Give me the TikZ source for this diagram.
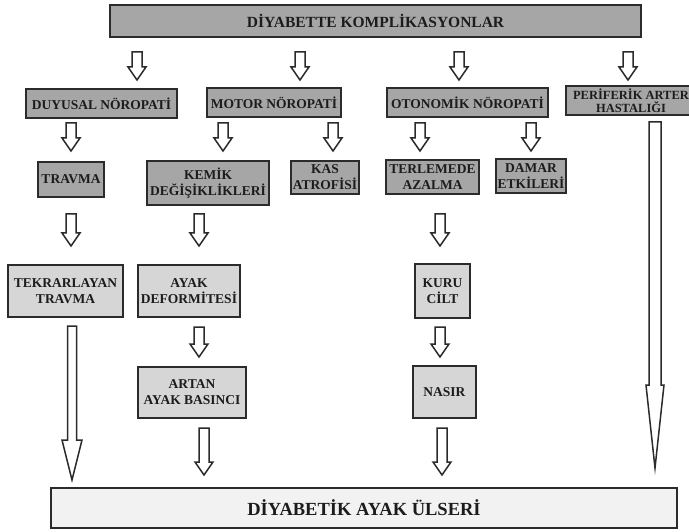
\documentclass[tikz,border=0pt]{standalone}
\usepackage{fontspec}
\setmainfont{Liberation Serif}
\definecolor{midgray}{HTML}{A6A6A6}
\definecolor{lightgray2}{HTML}{D6D6D6}
\definecolor{palegray}{HTML}{F2F2F2}
\definecolor{edge}{HTML}{2B2B2B}
\definecolor{ink}{HTML}{1C1C1C}
\tikzset{
  boxbase/.style={rectangle, draw=edge, line width=1.8pt, inner sep=1pt, outer sep=0pt,
    align=center, text=ink, font=\bfseries\fontsize{13.5}{16}\selectfont},
  darkbox/.style={boxbase, fill=midgray},
  lightbox/.style={boxbase, fill=lightgray2},
  topbox/.style={boxbase, fill=midgray, font=\bfseries\fontsize{15.5}{17}\selectfont},
  endbox/.style={boxbase, fill=palegray, line width=2pt, font=\bfseries\fontsize{18.5}{21}\selectfont},
  blockarrow/.style={draw=edge, line width=1.5pt, fill=white, line join=miter}
}
% box: name, x1, y1, x2, y2, style, text
\newcommand\bx[7]{%
  \pgfmathsetmacro{\bxw}{#4-#2}\pgfmathsetmacro{\bxh}{#5-#3}%
  \node[#6, minimum width=\bxw pt, minimum height=\bxh pt] (#1) at ({(#2+#4)/2},{(#3+#5)/2}) {#7};}
% block arrow: x, ytop, ybot, shaft half, head half, head length
\newcommand\barr[6]{%
  \draw[blockarrow] ({#1-#4},#2) -- ({#1+#4},#2) -- ({#1+#4},{#3-#6}) -- ({#1+#5},{#3-#6})
    -- (#1,#3) -- ({#1-#5},{#3-#6}) -- ({#1-#4},{#3-#6}) -- cycle;}
\begin{document}
\begin{tikzpicture}[x=1pt, y=-1pt]
\useasboundingbox (0,0) rectangle (689,532);
\begin{scope}
\clip (0,0) rectangle (689,532);
% top
\bx{top}{110}{5}{641}{37}{topbox}{DİYABETTE KOMPLİKASYONLAR}
% level 1
\bx{duy}{26}{89}{177}{118}{darkbox}{DUYUSAL NÖROPATİ}
\bx{mot}{207}{88}{341}{117}{darkbox}{MOTOR NÖROPATİ}
\bx{oto}{387}{88}{548}{117}{darkbox}{OTONOMİK NÖROPATİ}
\bx{per}{566}{86}{696}{115}{darkbox, font=\bfseries\fontsize{12.5}{13}\selectfont}{PERİFERİK ARTER\\HASTALIĞI}
% level 2
\bx{trv}{38}{162}{104}{197}{darkbox}{TRAVMA}
\bx{kem}{147}{161}{269}{205}{darkbox}{KEMİK\\DEĞİŞİKLİKLERİ}
\bx{kas}{291}{161}{359}{194}{darkbox}{KAS\\ATROFİSİ}
\bx{ter}{386}{160}{479}{194}{darkbox}{TERLEMEDE\\AZALMA}
\bx{dam}{496}{159}{566}{193}{darkbox}{DAMAR\\ETKİLERİ}
% level 3
\bx{tek}{8}{265}{123}{317}{lightbox}{TEKRARLAYAN\\TRAVMA}
\bx{ayd}{138}{265}{240}{317}{lightbox}{AYAK\\DEFORMİTESİ}
\bx{kur}{415}{264}{470}{318}{lightbox}{KURU\\CİLT}
% level 4
\bx{art}{138}{367}{246}{418}{lightbox}{ARTAN\\AYAK BASINCI}
\bx{nas}{413}{366}{476}{418}{lightbox}{NASIR}
% bottom
\bx{ulc}{51}{488}{677}{528}{endbox}{DİYABETİK AYAK ÜLSERİ}
% arrows from top
\barr{137}{52}{80}{5}{9}{13}
\barr{300}{52}{80}{5}{9}{13}
\barr{459}{52}{80}{5}{9}{13}
\barr{628}{52}{80}{5}{9}{13}
% arrows from level 1
\barr{71}{123}{151}{5}{9}{13}
\barr{223}{123}{151}{5}{9}{13}
\barr{333}{123}{151}{5}{9}{13}
\barr{420}{123}{151}{5}{9}{13}
\barr{531}{123}{151}{5}{9}{13}
\barr{655}{122}{468}{6}{9}{83}
% arrows from level 2
\barr{71}{214}{246}{5}{9}{13}
\barr{199}{214}{246}{5}{9}{13}
\barr{440}{214}{246}{5}{9}{13}
% level 3 to 4 / bottom
\barr{72}{326}{480}{4.5}{10}{40}
\barr{199}{327}{357}{5}{9}{13}
\barr{440}{327}{357}{5}{9}{13}
% level 4 to bottom
\barr{204}{428}{475}{5}{9}{13}
\barr{442}{428}{475}{5}{9}{13}
\end{scope}
\end{tikzpicture}
\end{document}
